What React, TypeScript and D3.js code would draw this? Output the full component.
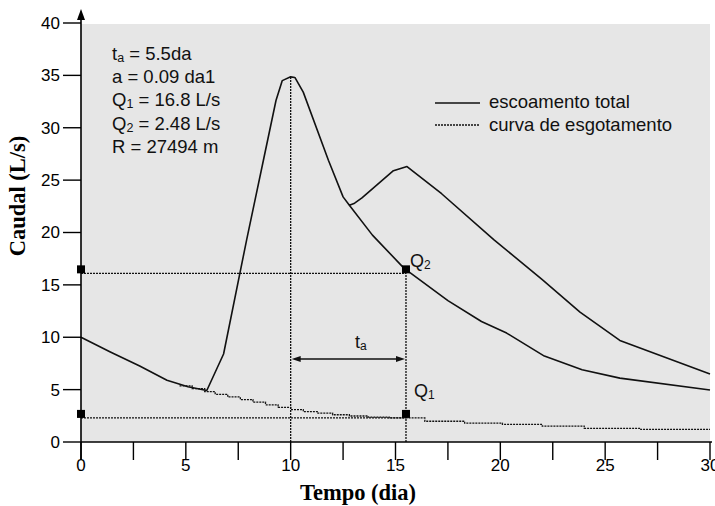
import * as d3 from "d3";

// escoamento total (hidrograma)
const totalDays = [0, 1.4, 2.8, 4.1, 5.1, 6.0, 6.8, 7.9, 8.7, 9.3, 9.6, 10.0, 10.2, 10.6, 11.8, 12.5, 12.8, 13.05, 13.4, 14.9, 15.55, 17.2, 19.7, 22.0, 23.8, 25.7, 30];
const totalQ = [10, 8.6, 7.25, 5.9, 5.28, 4.92, 8.4, 19.3, 26.9, 32.6, 34.5, 34.86, 34.8, 33.4, 26.9, 23.4, 22.6, 22.8, 23.3, 25.9, 26.3, 23.7, 19.3, 15.5, 12.4, 9.7, 6.5];

// ramo de recessão do primeiro pico
const branchDays = [12.8, 13.9, 15.4, 17.5, 19.1, 20.3, 22.1, 23.9, 25.7, 30];
const branchQ = [22.6, 19.75, 16.6, 13.5, 11.5, 10.4, 8.2, 6.9, 6.1, 4.96];

// curva de esgotamento (em degraus)
const recDays = [4.7, 5.3, 5.9, 6.4, 7.0, 7.6, 8.2, 8.8, 9.4, 10.0, 10.6, 11.3, 12.0, 12.8, 13.7, 14.7, 16.4, 18.3, 20.1, 22.0, 24.0, 26.7, 30];
const recQ = [5.35, 5.1, 4.8, 4.55, 4.3, 4.05, 3.8, 3.55, 3.3, 3.1, 2.9, 2.75, 2.6, 2.48, 2.38, 2.3, 1.98, 1.8, 1.68, 1.52, 1.3, 1.2, 1.2];

const yTicks = [0, 5, 10, 15, 20, 25, 30, 35, 40];
const xTicks = d3.range(0, 30.01, 2.5);
const xLabels = [0, 5, 10, 15, 20, 25, 30];

const peakDay = 10;
const peakQ = 34.86;
const taEnd = 15.5;
const q2Level = 16.1;
const q1Level = 2.3;

const infoLines = [
  { main: "t", sub: "a", rest: " = 5.5da" },
  { main: "a = 0.09 da1", sub: "", rest: "" },
  { main: "Q", sub: "1", rest: " = 16.8 L/s" },
  { main: "Q", sub: "2", rest: " = 2.48 L/s" },
  { main: "R = 27494 m", sub: "", rest: "" },
];

const W = 715;
const H = 506;
const sans = "'Liberation Sans', Arial, Helvetica, sans-serif";
const serif = "'Liberation Serif', 'Times New Roman', serif";

export default function App() {
  const x = d3.scaleLinear().domain([0, 30]).range([81, 710]);
  const y = d3.scaleLinear().domain([0, 40]).range([442, 23]);

  const line = d3
    .line<[number, number]>()
    .x((d) => x(d[0]))
    .y((d) => y(d[1]));
  const stepLine = d3
    .line<[number, number]>()
    .x((d) => x(d[0]))
    .y((d) => y(d[1]))
    .curve(d3.curveStepAfter);

  const total = totalDays.map((d, i) => [d, totalQ[i]] as [number, number]);
  const branch = branchDays.map((d, i) => [d, branchQ[i]] as [number, number]);
  const rec = recDays.map((d, i) => [d, recQ[i]] as [number, number]);

  const dots = "2,1";
  const ink = "#111";

  const arrowY = 359;
  const ax1 = x(peakDay) + 1;
  const ax2 = x(taEnd) - 1;

  return (
    <svg width={W} height={H} style={{ position: "absolute", left: 0, top: 0 }}>
      <rect width={W} height={H} fill="#fff" />
      {/* plot background */}
      <rect x={x(0)} y={24} width={x(30) - x(0)} height={y(0) - 24} fill="#e6e6e6" />

      {/* reference lines */}
      <line x1={x(0)} x2={x(taEnd)} y1={y(q2Level)} y2={y(q2Level)} stroke={ink} strokeWidth={1.3} strokeDasharray={dots} />
      <line x1={x(0)} x2={x(taEnd)} y1={y(q1Level)} y2={y(q1Level)} stroke={ink} strokeWidth={1.3} strokeDasharray={dots} />
      <line x1={x(peakDay)} x2={x(peakDay)} y1={y(0)} y2={y(peakQ)} stroke={ink} strokeWidth={1.3} strokeDasharray={dots} />
      <line x1={x(taEnd)} x2={x(taEnd)} y1={y(0)} y2={y(q2Level)} stroke={ink} strokeWidth={1.3} strokeDasharray={dots} />

      {/* curves */}
      <path d={stepLine(rec) ?? ""} fill="none" stroke={ink} strokeWidth={1.3} strokeDasharray={dots} />
      <path d={line(total) ?? ""} fill="none" stroke={ink} strokeWidth={1.6} strokeLinejoin="round" />
      <path d={line(branch) ?? ""} fill="none" stroke={ink} strokeWidth={1.6} strokeLinejoin="round" />

      {/* markers */}
      {[q2Level, q1Level].map((q) =>
        [0, taEnd].map((d) => (
          <rect key={`${q}-${d}`} x={x(d) - 4} y={y(q) - 8} width={8} height={8} fill="#000" />
        ))
      )}

      {/* ta arrow */}
      <line x1={ax1 + 6} x2={ax2 - 6} y1={arrowY} y2={arrowY} stroke={ink} strokeWidth={1.3} />
      <path d={`M${ax1},${arrowY}L${ax1 + 9},${arrowY - 3}L${ax1 + 9},${arrowY + 3}Z`} fill={ink} />
      <path d={`M${ax2},${arrowY}L${ax2 - 9},${arrowY - 3}L${ax2 - 9},${arrowY + 3}Z`} fill={ink} />
      <text x={355} y={348} fontFamily={sans} fontSize={18} fill={ink}>
        t<tspan fontSize={12} dy={2}>a</tspan>
      </text>
      <text x={410} y={267} fontFamily={sans} fontSize={18} fill={ink}>
        Q<tspan fontSize={12} dy={2}>2</tspan>
      </text>
      <text x={414} y={397} fontFamily={sans} fontSize={18} fill={ink}>
        Q<tspan fontSize={12} dy={2}>1</tspan>
      </text>

      {/* axes */}
      <line x1={x(0)} x2={712} y1={y(0)} y2={y(0)} stroke="#000" strokeWidth={1.6} />
      <line x1={x(0)} x2={x(0)} y1={460} y2={14} stroke="#000" strokeWidth={1.6} />
      <path d={`M${x(0)},9L${x(0) - 4},20L${x(0) + 4},20Z`} fill="#000" />
      {yTicks.map((t) => (
        <g key={`y${t}`}>
          <line x1={63} x2={x(0)} y1={y(t)} y2={y(t)} stroke="#000" strokeWidth={1.4} />
          <text x={60} y={y(t)} dy="0.35em" textAnchor="end" fontFamily={sans} fontSize={17} fill="#000">
            {t}
          </text>
        </g>
      ))}
      {xTicks.map((t) => (
        <line key={`x${t}`} x1={x(t)} x2={x(t)} y1={y(0)} y2={460} stroke="#000" strokeWidth={1.4} />
      ))}
      {xLabels.map((t) => (
        <text key={`xl${t}`} x={x(t)} y={471} textAnchor="middle" fontFamily={sans} fontSize={17} fill="#000">
          {t}
        </text>
      ))}

      {/* axis titles */}
      <text x={358} y={500} textAnchor="middle" fontFamily={serif} fontWeight="bold" fontSize={22.5} fill="#000">
        Tempo (dia)
      </text>
      <text
        transform={`translate(25,196) rotate(-90)`}
        textAnchor="middle"
        fontFamily={serif}
        fontWeight="bold"
        fontSize={22.5}
        fill="#000"
      >
        Caudal (L/s)
      </text>

      {/* parameter box */}
      {infoLines.map((l, i) => (
        <text key={`info${i}`} x={112} y={60 + i * 23.2} fontFamily={sans} fontSize={18.5} fill={ink}>
          {l.main}
          {l.sub && (
            <tspan fontSize={12.5} dy={2}>
              {l.sub}
            </tspan>
          )}
          {l.rest && <tspan dy={l.sub ? -2 : 0}>{l.rest}</tspan>}
        </text>
      ))}

      {/* legend */}
      <line x1={435} x2={480} y1={103} y2={103} stroke={ink} strokeWidth={1.6} />
      <text x={489} y={108} fontFamily={sans} fontSize={18.5} fill={ink}>
        escoamento total
      </text>
      <line x1={435} x2={480} y1={125} y2={125} stroke={ink} strokeWidth={1.3} strokeDasharray={dots} />
      <text x={489} y={131} fontFamily={sans} fontSize={18.5} fill={ink}>
        curva de esgotamento
      </text>
    </svg>
  );
}
